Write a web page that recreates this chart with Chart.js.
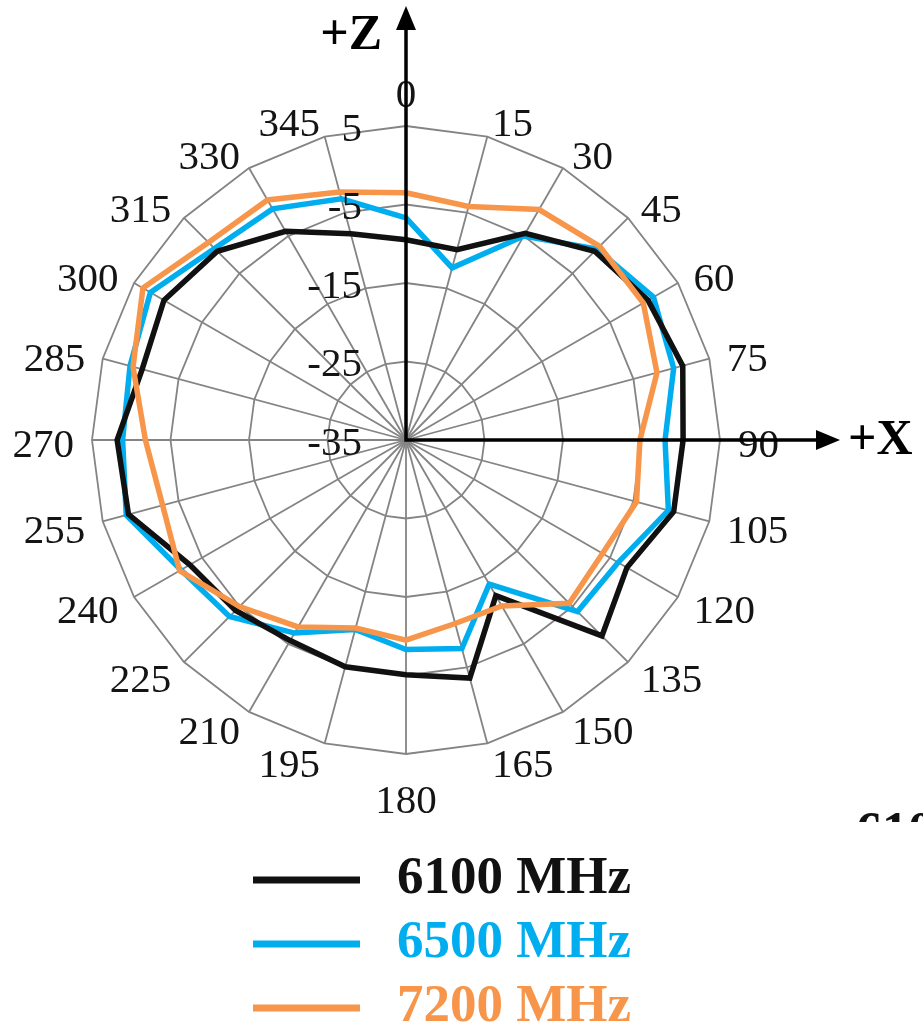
<!DOCTYPE html>
<html>
<head>
<meta charset="utf-8">
<script src="https://cdn.jsdelivr.net/npm/chart.js@4.4.1/dist/chart.umd.min.js"></script>
<style>
  html, body { margin: 0; padding: 0; background: #ffffff; }
  #wrap { position: relative; width: 923px; height: 1031px; }
</style>
</head>
<body>
<div id="wrap"><canvas id="c"></canvas></div>
<script>
// ---- data ----
const angleLabels = ['0','15','30','45','60','75','90','105','120','135','150','165',
                     '180','195','210','225','240','255','270','285','300','315','330','345'];
const radialMin = -35;
const radialMax = 5;
const radialStep = 10;
const seriesNames = ['6100 MHz', '6500 MHz', '7200 MHz'];
const series6100 = [-9.5, -9.9, -4.6, -1.0, 0.6, 1.5, 0.3, 0.3, -2.5, 0.3, -12.1, -3.6,
                    -5.1, -5.1, -5.5, -4.3, -3.2, 1.6, 1.8, -0.2, 0.6, -1.0, -4.3, -7.8];
const series6500 = [-6.7, -12.3, -5.0, -0.6, 1.4, 0.3, -2.0, -0.4, -3.8, -4.1, -13.8, -7.5,
                    -8.3, -10.0, -6.6, -3.2, -1.9, 1.9, 1.1, 1.4, 2.6, -0.5, -1.0, -3.2];
const series7200 = [-3.5, -4.2, -1.1, -0.1, -0.1, -1.9, -5.2, -4.6, -6.1, -5.6, -10.6, -10.8,
                    -9.5, -10.2, -7.5, -5.0, -1.7, -2.9, -1.8, 1.0, 3.7, 0.6, 0.3, -2.3];
const axisNames = ['+Z', '+X'];

// ---- styles ----
const seriesColors = ['#111111', '#00AEEF', '#F7964A'];
const serif = "'Liberation Serif', 'Times New Roman', serif";

const overlay = {
  id: 'overlay',
  afterDatasetsDraw(chart) {
    const s = chart.scales.r;
    const ctx = chart.ctx;
    const cx = s.xCenter, cy = s.yCenter, R = s.drawingArea;
    const n = chart.data.labels.length;
    ctx.save();

    // angle labels
    ctx.fillStyle = '#141414';
    ctx.font = '41px ' + serif;
    ctx.textBaseline = 'middle';
    chart.data.labels.forEach((lab, i) => {
      const p = s.getPointPosition(i, R + 18);
      const a = i * 2 * Math.PI / n;
      const sn = Math.sin(a), cs = Math.cos(a);
      let align = Math.abs(sn) < 0.01 ? 'center' : (sn > 0 ? 'left' : 'right');
      let y = p.y + 6;
      if (align === 'center') y += (cs > 0 ? -18 : 24);
      ctx.textAlign = align;
      ctx.fillText(lab, p.x, y);
    });

    // axes with arrows
    const ext = R + 120;
    ctx.strokeStyle = '#000';
    ctx.fillStyle = '#000';
    ctx.lineWidth = 3.5;
    ctx.lineCap = 'square';
    ctx.beginPath();
    ctx.moveTo(cx, cy - ext + 20);
    ctx.lineTo(cx, cy);
    ctx.lineTo(cx + ext - 20, cy);
    ctx.stroke();
    ctx.beginPath();
    ctx.moveTo(cx, cy - ext); ctx.lineTo(cx - 10, cy - ext + 24); ctx.lineTo(cx + 10, cy - ext + 24);
    ctx.closePath(); ctx.fill();
    ctx.beginPath();
    ctx.moveTo(cx + ext, cy); ctx.lineTo(cx + ext - 24, cy - 10); ctx.lineTo(cx + ext - 24, cy + 10);
    ctx.closePath(); ctx.fill();

    ctx.font = 'bold 50px ' + serif;
    ctx.textBaseline = 'middle';
    ctx.textAlign = 'right';
    ctx.fillText(axisNames[0], cx - 24, cy - ext + 30);
    ctx.textAlign = 'left';
    ctx.fillText(axisNames[1], cx + ext + 8, cy + 1);

    // radial tick labels
    ctx.font = '41px ' + serif;
    ctx.fillStyle = '#141414';
    ctx.textAlign = 'right';
    ctx.textBaseline = 'middle';
    s.ticks.forEach(t => {
      const d = s.getDistanceFromCenterForValue(t.value);
      ctx.fillText(String(t.value), cx - 44, cy - d + 4);
    });

    // legend
    const order = [0, 1, 2];
    ctx.font = 'bold 53px ' + serif;
    ctx.textAlign = 'left';
    ctx.textBaseline = 'middle';
    order.forEach((di, k) => {
      const ds = chart.data.datasets[di];
      const y = 879 + 64 * k;
      ctx.strokeStyle = ds.borderColor;
      ctx.lineWidth = 7;
      ctx.lineCap = 'butt';
      ctx.beginPath(); ctx.moveTo(253, y + 1); ctx.lineTo(360, y + 1); ctx.stroke();
      ctx.fillStyle = ds.borderColor;
      ctx.fillText(ds.label, 397, y);
    });

    // clipped fragment at the bottom right
    ctx.save();
    ctx.beginPath(); ctx.rect(840, 800, 83, 22); ctx.clip();
    ctx.fillStyle = '#111';
    ctx.font = 'bold 52px ' + serif;
    ctx.textBaseline = 'alphabetic';
    ctx.textAlign = 'left';
    ctx.fillText('610', 856, 848);
    ctx.restore();

    ctx.restore();
  }
};

const datasets = [series6100, series6500, series7200].map((arr, i) => ({
  label: seriesNames[i],
  data: arr,
  borderColor: seriesColors[i],
  backgroundColor: 'transparent',
  borderWidth: 5.5,
  borderJoinStyle: 'miter',
  pointRadius: 0,
  pointHoverRadius: 0,
  fill: false,
  tension: 0,
  order: [1, 2, 0][i]
}));

new Chart(document.getElementById('c'), {
  type: 'radar',
  data: { labels: angleLabels, datasets: datasets },
  options: {
    responsive: true,
    maintainAspectRatio: false,
    animation: false,
    layout: { padding: { left: 92, right: 203, top: 126, bottom: 277 } },
    plugins: { legend: { display: false }, tooltip: { enabled: false } },
    scales: {
      r: {
        min: radialMin,
        max: radialMax,
        startAngle: 0,
        ticks: { stepSize: radialStep, display: false },
        pointLabels: { display: false },
        grid: { color: '#848484', lineWidth: 1.8 },
        angleLines: { color: '#848484', lineWidth: 1.8 }
      }
    }
  },
  plugins: [overlay]
});
</script>
</body>
</html>
